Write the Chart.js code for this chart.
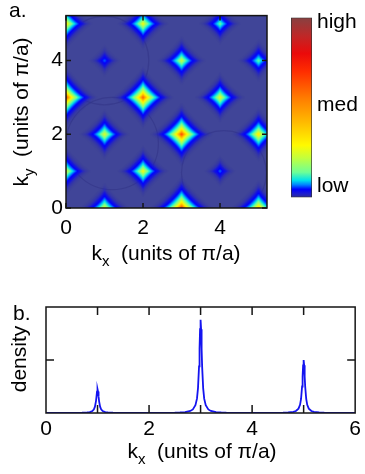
<!DOCTYPE html>
<html><head><meta charset="utf-8">
<script src="https://cdn.jsdelivr.net/npm/chart.js@4.4.0/dist/chart.umd.min.js"></script>
<style>
html,body{margin:0;padding:0;background:#fff;width:365px;height:474px;overflow:hidden;}
canvas{position:absolute;}
#ca{left:0;top:0;} #cb{left:280px;top:0;} #cc{left:0;top:290px;}
</style></head><body>
<canvas id="ca" width="280" height="275"></canvas>
<canvas id="cb" width="85" height="215"></canvas>
<canvas id="cc" width="365" height="184"></canvas>
<script>
// ---------- data: panel a (bright spots of the momentum map) ----------
const spotKx    = [0,    2,    4,    1,    3,    5,    0,    2,    4,    1,    3,    5,    0,    2,    4,    1,    3,    5];
const spotKy    = [5,    5,    5,    4,    4,    4,    3,    3,    3,    2,    2,    2,    1,    1,    1,    0,    0,    0];
const spotLevel = [0.36, 0.30, 0.15, 0.07, 0.25, 0.15, 0.75, 0.66, 0.28, 0.27, 0.72, 0.36, 0.27, 0.30, 0.07, 0.28, 0.78, 0.42];
// faint ring boundaries in the map background
const ringKx = [1.0, 4.1, 1.2];
const ringKy = [4.0, 0.95, 1.75];
const ringR  = [1.15, 1.1, 1.2];
const mapTicks  = [0, 2, 4];
// ---------- colour bar ----------
const cbarTickVals = [0.065, 0.515, 0.975];
const cbarLabels   = ['low', 'med', 'high'];
// ---------- data: panel b (density along kx) ----------
const densityKx = [0,
  0.5,0.6,0.7,0.8,0.85,0.9,0.93,0.95,0.97,0.98,0.99,1.0,1.01,1.02,1.03,1.05,1.07,1.1,1.15,1.2,1.3,1.4,1.5,
  2.5,2.6,2.7,2.8,2.85,2.9,2.93,2.95,2.97,2.98,2.99,3.0,3.01,3.02,3.03,3.05,3.07,3.1,3.15,3.2,3.3,3.4,3.5,
  4.5,4.6,4.7,4.8,4.85,4.9,4.93,4.95,4.97,4.98,4.99,5.0,5.01,5.02,5.03,5.05,5.07,5.1,5.15,5.2,5.3,5.4,5.5,
  6];
const densityVal = [0,
  0.0016,0.0025,0.0045,0.01,0.017,0.037,0.07,0.12,0.225,0.31,0.405,0.45,0.405,0.31,0.225,0.12,0.07,0.037,0.017,0.01,0.0045,0.0025,0.0016,
  0.006,0.01,0.017,0.039,0.067,0.146,0.27,0.47,0.88,1.21,1.58,1.76,1.58,1.21,0.88,0.47,0.27,0.146,0.067,0.039,0.017,0.01,0.006,
  0.0036,0.0056,0.01,0.022,0.038,0.083,0.155,0.265,0.5,0.69,0.9,1.0,0.9,0.69,0.5,0.265,0.155,0.083,0.038,0.022,0.01,0.0056,0.0036,
  0];
const densityLabelTicks = [0, 2, 4, 6];
const densityMinorTicks = [1, 2, 3, 4, 5];
const densityYTicks = [1];

// ---------- styling ----------
const FONT = "'Liberation Sans', Arial, Helvetica, sans-serif";
Chart.defaults.font.family = FONT;
Chart.defaults.color = '#000';
const MAP_BG = 'rgb(64,69,152)';
const stops = [
  [0.00,[45,45,150]],[0.02,[30,30,205]],[0.045,[0,0,255]],[0.07,[0,130,255]],
  [0.095,[0,225,235]],[0.14,[110,255,150]],[0.22,[195,255,60]],[0.29,[255,250,0]],
  [0.42,[255,185,0]],[0.55,[255,125,0]],[0.70,[255,45,0]],[0.80,[235,10,10]],
  [0.90,[190,40,40]],[1.00,[135,65,65]]];
function cmap(v){
  if(v<=stops[0][0]) return stops[0][1];
  for(let i=1;i<stops.length;i++){
    if(v<=stops[i][0]){
      const a=stops[i-1],b=stops[i],t=(v-a[0])/(b[0]-a[0]);
      return [0,1,2].map(k=>Math.round(a[1][k]+(b[1][k]-a[1][k])*t));
    }
  }
  return stops[stops.length-1][1];
}
// marker image for one spot (4-pointed star with colour-mapped falloff)
const P = 0.88, LAMBDA = 6.8, HALF = 34;
function spotImage(level){
  const n=2*HALF, c=document.createElement('canvas'); c.width=c.height=n;
  const g=c.getContext('2d'); const img=g.createImageData(n,n);
  for(let j=0;j<n;j++) for(let i=0;i<n;i++){
    const dx=Math.abs(i+0.5-HALF), dy=Math.abs(j+0.5-HALF);
    const r=Math.pow(Math.pow(dx,P)+Math.pow(dy,P),1/P);
    const v=level*Math.exp(-r/LAMBDA);
    const k=(j*n+i)*4;
    if(v<0.006){img.data[k+3]=0;continue;}
    const col=cmap(v);
    img.data[k]=col[0];img.data[k+1]=col[1];img.data[k+2]=col[2];
    img.data[k+3]=Math.round(255*Math.min(1,(v-0.006)/0.02));
  }
  g.putImageData(img,0,0); return c;
}

function drawText(ctx, x, y, parts, align){
  let total=0;
  parts.forEach(p=>{ctx.font=p[1]+'px '+FONT; total+=ctx.measureText(p[0]).width;});
  let cx = align==='left'? x : x-total/2;
  ctx.textBaseline='alphabetic'; ctx.textAlign='left'; ctx.fillStyle='#000';
  parts.forEach(p=>{ctx.font=p[1]+'px '+FONT; ctx.fillText(p[0],cx,y+p[2]); cx+=ctx.measureText(p[0]).width;});
}

function drawFrame(chart, xt, yt, len, lw){
  const {ctx, chartArea:{left,right,top,bottom}, scales:{x,y}} = chart;
  ctx.save();
  ctx.strokeStyle='#151515'; ctx.lineWidth=lw;
  ctx.strokeRect(left, top, right-left, bottom-top);
  ctx.beginPath();
  xt.forEach(v=>{const px=x.getPixelForValue(v); ctx.moveTo(px,bottom); ctx.lineTo(px,bottom-len); ctx.moveTo(px,top); ctx.lineTo(px,top+len);});
  yt.forEach(v=>{const py=y.getPixelForValue(v); ctx.moveTo(left,py); ctx.lineTo(left+len,py); ctx.moveTo(right,py); ctx.lineTo(right-len,py);});
  ctx.stroke();
  ctx.restore();
}

// ---------- panel a ----------
const mapPlugin = {
  id:'mapDecor',
  beforeDatasetsDraw(chart){
    const {ctx, chartArea:{left,right,top,bottom}, scales:{x,y}} = chart;
    ctx.save(); ctx.fillStyle=MAP_BG; ctx.fillRect(left,top,right-left,bottom-top);
    ctx.beginPath(); ctx.rect(left,top,right-left,bottom-top); ctx.clip();
    ctx.strokeStyle='rgba(52,56,138,0.7)'; ctx.lineWidth=1.2;
    ringKx.forEach((kx,i)=>{
      const cx=x.getPixelForValue(kx), cy=y.getPixelForValue(ringKy[i]);
      const rr=x.getPixelForValue(ringR[i])-x.getPixelForValue(0);
      ctx.beginPath(); ctx.arc(cx,cy,rr,0,Math.PI*2); ctx.stroke();
    });
    ctx.restore();
  },
  afterDatasetsDraw(chart){ drawFrame(chart, mapTicks, mapTicks, 5, 1.5); },
  afterDraw(chart){
    const ctx=chart.ctx;
    ctx.save();
    drawText(ctx, 9, 17, [['a.',21,0]], 'left');
    drawText(ctx, 166, 260, [['k',21,0],['x',15,6],['  (units of π/a)',21,0]]);
    ctx.translate(28,112); ctx.rotate(-Math.PI/2);
    drawText(ctx, 0, 0, [['k',21,0],['y',15,6],['  (units of π/a)',21,0]]);
    ctx.restore();
  }
};
new Chart(document.getElementById('ca'), {
  type:'scatter',
  data:{datasets:[{
    data: spotKx.map((x,i)=>({x, y:spotKy[i]})),
    pointStyle: spotLevel.map(spotImage),
    pointRadius: 3, clip: 0
  }]},
  options:{
    responsive:false, animation:false, events:[],
    layout:{padding:{left:0,right:13,top:7,bottom:0}},
    plugins:{legend:{display:false}, tooltip:{enabled:false}},
    scales:{
      x:{type:'linear', min:0, max:5.22, grid:{display:false, drawTicks:false}, border:{display:false},
         afterBuildTicks:s=>{s.ticks=mapTicks.map(v=>({value:v}));}, afterFit:s=>{s.height=67;},
         ticks:{font:{size:21}, padding:8, maxRotation:0, autoSkip:false, callback:v=>String(v)}},
      y:{type:'linear', min:0, max:5.22, grid:{display:false, drawTicks:false}, border:{display:false},
         afterBuildTicks:s=>{s.ticks=mapTicks.map(v=>({value:v}));}, afterFit:s=>{s.width=66;},
         ticks:{font:{size:21}, padding:3, autoSkip:false, callback:v=>String(v)}}
    }
  },
  plugins:[mapPlugin]
});

// ---------- colour bar ----------
new Chart(document.getElementById('cb'), {
  type:'bar',
  data:{labels:[''], datasets:[{
    data:[[0,1]],
    backgroundColor:(c)=>{const a=c.chart.chartArea; if(!a) return '#888';
      const g=c.chart.ctx.createLinearGradient(0,a.bottom,0,a.top);
      stops.forEach(s=>g.addColorStop(s[0],'rgb('+s[1].join(',')+')')); return g;},
    borderColor:'#333', borderWidth:1, borderSkipped:false, barPercentage:1, categoryPercentage:1
  }]},
  options:{
    responsive:false, animation:false, events:[],
    layout:{padding:{left:11,right:0,top:8,bottom:7}},
    plugins:{legend:{display:false}, tooltip:{enabled:false}},
    scales:{
      x:{display:false},
      y:{position:'right', min:0, max:1, grid:{display:false, drawTicks:false}, border:{display:false},
         afterBuildTicks:s=>{s.ticks=cbarTickVals.map(v=>({value:v}));}, afterFit:s=>{s.width=53;},
         ticks:{font:{size:21}, padding:5, autoSkip:false, callback:(v,i)=>cbarLabels[i]}}
    }
  }
});

// ---------- panel b ----------
const densPlugin = {
  id:'densDecor',
  afterDatasetsDraw(chart){ drawFrame(chart, densityMinorTicks, densityYTicks, 8, 1.5); },
  afterDraw(chart){
    const ctx=chart.ctx;
    ctx.save();
    drawText(ctx, 13, 30, [['b.',21,0]], 'left');
    drawText(ctx, 202, 168, [['k',21,0],['x',15,6],['  (units of π/a)',21,0]]);
    ctx.translate(26,69); ctx.rotate(-Math.PI/2);
    drawText(ctx, 0, 0, [['density',21,0]]);
    ctx.restore();
  }
};
new Chart(document.getElementById('cc'), {
  type:'line',
  data:{datasets:[{
    data: densityKx.map((x,i)=>({x, y:densityVal[i]})),
    borderColor:'#1414f0', borderWidth:1.8, pointRadius:0, tension:0, fill:false
  }]},
  options:{
    responsive:false, animation:false, events:[],
    layout:{padding:{left:0,right:9,top:17,bottom:0}},
    plugins:{legend:{display:false}, tooltip:{enabled:false}},
    scales:{
      x:{type:'linear', min:0, max:6, grid:{display:false, drawTicks:false}, border:{display:false},
         afterBuildTicks:s=>{s.ticks=densityLabelTicks.map(v=>({value:v}));}, afterFit:s=>{s.height=61;},
         ticks:{font:{size:21}, padding:4, maxRotation:0, autoSkip:false, callback:v=>String(v)}},
      y:{type:'linear', min:0, max:2, grid:{display:false, drawTicks:false}, border:{display:false},
         ticks:{display:false}, afterFit:s=>{s.width=46;}}
    }
  },
  plugins:[densPlugin]
});
</script></body></html>
